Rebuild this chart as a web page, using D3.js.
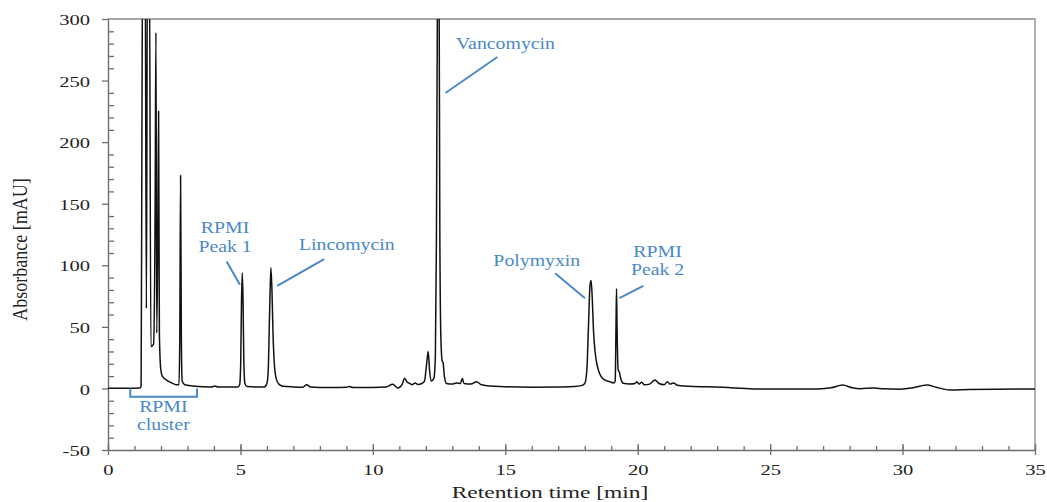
<!DOCTYPE html>
<html>
<head>
<meta charset="utf-8">
<script src="https://cdn.jsdelivr.net/npm/d3@7"></script>
<style>
  body { margin: 0; background: #fff; }
  svg { display: block; font-family: "Liberation Serif", "Times New Roman", serif; }
</style>
</head>
<body>
<div id="viz"></div>
<script>
var width = 1047,
    height = 502,
    plot = {left: 108, right: 1035, top: 19, bottom: 450};

// chromatogram, [retention time (min), absorbance (mAU)]
var trace = [
  [0, 0.2], [0.5, 0.2], [1.0, 0.2], [1.2, 0.3], [1.25, 2], [1.28, 200], [1.31, 360], [1.40, 360],
  [1.45, 65], [1.49, 360], [1.56, 360], [1.62, 34], [1.72, 36], [1.78, 150], [1.81, 289], [1.84, 45],
  [1.88, 120], [1.91, 225], [1.94, 45], [1.99, 16], [2.05, 10], [2.2, 7], [2.4, 4.5], [2.58, 3],
  [2.68, 3], [2.71, 40], [2.74, 173], [2.77, 40], [2.80, 6], [2.9, 3], [3.2, 2], [3.6, 1.3],
  [3.9, 1.2], [4.04, 2], [4.15, 1.1], [4.5, 1.2], [4.9, 1.1], [4.97, 3], [5.01, 20], [5.04, 70],
  [5.07, 94], [5.10, 70], [5.13, 20], [5.17, 4], [5.25, 1.5], [5.6, 1.1], [5.9, 1.2], [6.0, 4],
  [6.05, 15], [6.10, 60], [6.15, 98], [6.19, 80], [6.23, 45], [6.28, 20], [6.35, 8], [6.45, 3.5],
  [6.6, 1.8], [7.0, 1.2], [7.35, 1], [7.5, 3], [7.65, 1.2], [8.0, 0.8], [8.5, 0.8], [9.0, 1],
  [9.1, 1.6], [9.25, 0.8], [10.0, 0.8], [10.5, 1.2], [10.75, 3.4], [10.95, 0.3], [11.1, 3], [11.2, 8.3],
  [11.3, 5], [11.4, 4], [11.47, 3], [11.6, 4.5], [11.7, 3.2], [11.85, 4], [11.95, 6], [12.03, 20],
  [12.09, 30], [12.14, 15], [12.2, 6], [12.3, 8], [12.36, 25], [12.40, 120], [12.44, 330], [12.47, 380],
  [12.50, 330], [12.53, 120], [12.57, 40], [12.62, 22], [12.65, 21], [12.70, 10], [12.78, 4], [13.0, 3.5],
  [13.16, 4.5], [13.3, 4], [13.38, 8], [13.44, 4], [13.7, 3.5], [13.92, 5.5], [14.1, 3], [14.8, 1.5],
  [16, 1], [17.0, 1.2], [17.6, 1.5], [17.9, 2.5], [18.0, 4], [18.08, 15], [18.14, 50], [18.2, 84],
  [18.24, 87.6], [18.28, 75], [18.33, 47], [18.39, 30], [18.45, 20.7], [18.53, 14], [18.62, 9.6], [18.75, 7],
  [18.93, 5.5], [19.1, 4.5], [19.15, 6], [19.18, 50], [19.2, 81], [19.22, 50], [19.26, 15], [19.3, 13.7],
  [19.36, 8], [19.45, 4.2], [19.7, 3.6], [19.9, 4], [19.97, 5.5], [20.05, 3.5], [20.15, 5], [20.25, 3],
  [20.45, 3.5], [20.65, 6.9], [20.8, 4], [21.0, 3], [21.12, 5.5], [21.22, 3.5], [21.35, 4.5], [21.5, 2.5],
  [22.1, 1.5], [22.6, 1.3], [23.5, 0.6], [24.5, -0.4], [26, -0.5], [26.8, -0.4], [27.3, 0.5], [27.74, 2.8],
  [28.1, 0.5], [28.4, -0.2], [28.9, 0.4], [29.3, -0.3], [29.9, -0.6], [30.4, 0.5], [30.91, 2.8], [31.3, 0.8],
  [31.8, -1.3], [32.5, -0.9], [33.5, -0.6], [35, -0.5]
];

var xTicks = [0, 5, 10, 15, 20, 25, 30, 35];
var yTicks = [-50, 0, 50, 100, 150, 200, 250, 300];

// peak labels, anchored in data units (t, mAU)
var callouts = [
  {text: ['Vancomycin'], t: 13.14, v: 275.9, anchor: 'start', from: [14.70, 269.1], to: [12.74, 239.9]},
  {text: ['Lincomycin'], t: 7.21, v: 112.5, anchor: 'start', from: [8.16, 105], to: [6.39, 83.3]},
  {text: ['RPMI', 'Peak 1'], t: 4.42, v: 126.1, anchor: 'middle', from: [4.48, 103], to: [4.98, 84.1]},
  {text: ['Polymyxin'], t: 14.55, v: 99.5, anchor: 'start', from: [16.88, 93.6], to: [18.01, 73.3]},
  {text: ['RPMI', 'Peak 2'], t: 20.75, v: 107.1, anchor: 'middle', from: [20.21, 83.3], to: [19.31, 73.3]},
  {text: ['RPMI', 'cluster'], t: 2.09, v: -18.9, anchor: 'middle'}
];
var clusterRange = [0.84, 3.36];

var blue = '#4a89c8',
    axisColor = '#6e6e6e';

var x = d3.scaleLinear().domain([0, 35]).range([plot.left, plot.right]);
var y = d3.scaleLinear().domain([-50, 300]).range([plot.bottom, plot.top]);

var svg = d3.select('#viz').append('svg')
  .attr('width', width)
  .attr('height', height);

svg.append('defs').append('clipPath').attr('id', 'clip')
  .append('rect')
  .attr('x', plot.left).attr('y', plot.top)
  .attr('width', plot.right - plot.left).attr('height', plot.bottom - plot.top);

// top + right frame
svg.append('path')
  .attr('d', 'M' + x(0) + ',' + y(300) + 'H' + x(35) + 'V' + y(-50))
  .attr('fill', 'none')
  .attr('stroke', '#8a8a8a')
  .attr('stroke-width', 1.3);

// minor ticks (inside)
svg.append('g')
  .attr('transform', 'translate(0,' + y(-50) + ')')
  .call(d3.axisBottom(x).tickValues(x.ticks(35)).tickSize(-4).tickSizeOuter(0).tickFormat(''))
  .call(g => g.select('.domain').remove());

svg.append('g')
  .attr('transform', 'translate(' + x(0) + ',0)')
  .call(d3.axisLeft(y).tickValues(y.ticks(35).filter(d => d % 50 !== 0)).tickSize(-6).tickSizeOuter(0).tickFormat(''))
  .call(g => g.select('.domain').remove());

// x axis
var gx = svg.append('g')
  .attr('transform', 'translate(0,' + y(-50) + ')')
  .call(d3.axisBottom(x).tickValues(xTicks).tickSize(5).tickSizeOuter(0).tickPadding(9).tickFormat(d => String(d)));
gx.selectAll('.tick line').attr('y1', -6);

// y axis (plain hyphen for the negative label, as in the original)
var gy = svg.append('g')
  .attr('transform', 'translate(' + x(0) + ',0)')
  .call(d3.axisLeft(y).tickValues(yTicks).tickSize(6).tickSizeOuter(0).tickPadding(12).tickFormat(d => String(d)));

svg.selectAll('.tick line').attr('stroke', axisColor).attr('stroke-width', 1.3);
svg.selectAll('.domain').attr('stroke', axisColor).attr('stroke-width', 1.4);

gx.selectAll('text')
  .attr('font-size', 15)
  .attr('font-family', '"Liberation Serif", serif')
  .attr('fill', '#222')
  .attr('transform', 'scale(1.37,1)');

gy.selectAll('text')
  .attr('font-size', 15)
  .attr('font-family', '"Liberation Serif", serif')
  .attr('fill', '#222')
  .attr('x', -18 / 1.37)
  .attr('dy', '0.38em')
  .attr('transform', 'scale(1.37,1)');

// axis titles
svg.append('text')
  .attr('transform', 'translate(550,497.5) scale(1.38,1)')
  .attr('text-anchor', 'middle')
  .attr('font-size', 17)
  .attr('fill', '#222')
  .text('Retention time [min]');

svg.append('text')
  .attr('transform', 'translate(27,249.5) scale(1.15,1) rotate(-90)')
  .attr('text-anchor', 'middle')
  .attr('font-size', 18)
  .attr('fill', '#222')
  .text('Absorbance [mAU]');

// chromatogram
var line = d3.line()
  .x(d => x(d[0]))
  .y(d => y(d[1]))
  .curve(d3.curveMonotoneX);

svg.append('path')
  .datum(trace)
  .attr('clip-path', 'url(#clip)')
  .attr('fill', 'none')
  .attr('stroke', '#111')
  .attr('stroke-width', 1.5)
  .attr('stroke-linejoin', 'round')
  .attr('d', line);

// callouts
var labels = svg.append('g').attr('class', 'callouts');

callouts.forEach(function(c) {
  var t = labels.append('text')
    .attr('transform', 'translate(' + x(c.t) + ',' + y(c.v) + ') scale(1.2,1)')
    .attr('text-anchor', c.anchor)
    .attr('font-size', 16.5)
    .attr('fill', blue);
  c.text.forEach(function(s, i) {
    t.append('tspan').attr('x', 0).attr('y', i * 18.8).text(s);
  });
  if (c.from) {
    labels.append('line')
      .attr('x1', x(c.from[0])).attr('y1', y(c.from[1]))
      .attr('x2', x(c.to[0])).attr('y2', y(c.to[1]))
      .attr('stroke', blue)
      .attr('stroke-width', 2);
  }
});

// bracket under the RPMI cluster
labels.append('path')
  .attr('d', 'M' + x(clusterRange[0]) + ',' + y(0) + 'V' + y(-6.7) + 'H' + x(clusterRange[1]) + 'V' + y(0))
  .attr('fill', 'none')
  .attr('stroke', blue)
  .attr('stroke-width', 2);
</script>
</body>
</html>
